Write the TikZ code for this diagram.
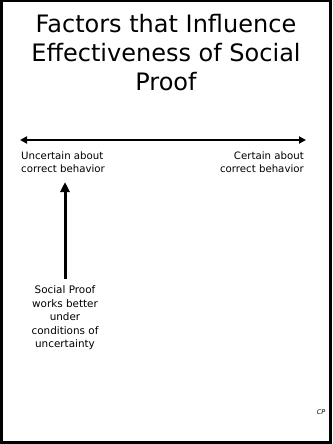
\documentclass[tikz,border=0pt]{standalone}
\usepackage{fontspec}
\setmainfont{DejaVu Sans}
\usetikzlibrary{arrows.meta}
\tikzset{
  titletext/.style={font=\fontsize{24}{29}\selectfont, align=center, inner sep=0pt},
  smalltext/.style={font=\fontsize{10.2}{12.5}\selectfont, inner sep=0pt},
  bodytext/.style={font=\fontsize{10.4}{13.5}\selectfont, align=center, inner sep=0pt},
  axis/.style={line width=2pt, {Triangle[length=7pt,width=7pt]}-{Triangle[length=7pt,width=7pt]}},
  pointer/.style={line width=3pt, -{Triangle[length=10pt,width=9pt]}}
}
\begin{document}
\begin{tikzpicture}[x=1pt,y=-1pt]
\useasboundingbox (0,0) rectangle (332,444);
\fill[white] (0,0) rectangle (332,444);
\draw[line width=2.5pt] (1.25,1.25) rectangle (330.5,442.5);
\node[titletext] (title) at (166,53) {Factors that Influence\\Effectiveness of Social\\Proof};
\coordinate (axl) at (20,140);
\coordinate (axr) at (306,140);
\draw[axis] (axl) -- (axr);
\node[smalltext, anchor=north west, align=left] (unc) at (21,152) {Uncertain about\\correct behavior};
\node[smalltext, anchor=north east, align=right] (cer) at (304,152) {Certain about\\correct behavior};
\node[bodytext] (sp) at (65,318) {Social Proof\\works better\\under\\conditions of\\uncertainty};
\coordinate (spt) at (65,279);
\coordinate (uct) at (65,182);
\draw[pointer] (spt) -- (uct);
\node[font=\itshape\fontsize{6.5}{7}\selectfont, inner sep=0pt] (cp) at (321,412) {CP};
\end{tikzpicture}
\end{document}
